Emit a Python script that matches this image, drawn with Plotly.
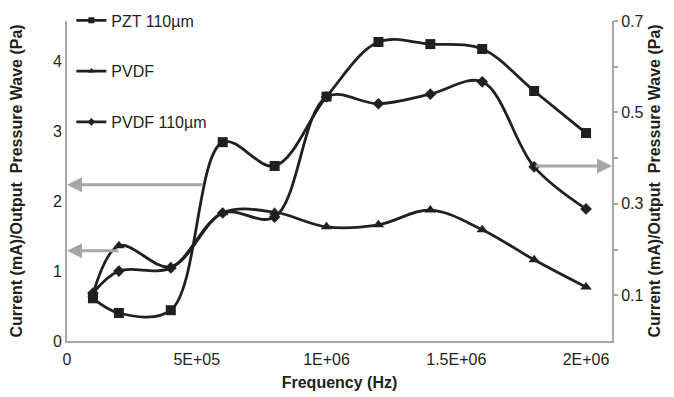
import plotly.graph_objects as go

freq = [1e5, 2e5, 4e5, 6e5, 8e5, 1e6, 1.2e6, 1.4e6, 1.6e6, 1.8e6, 2e6]
pzt_110 = [0.61, 0.40, 0.44, 2.84, 2.50, 3.49, 4.27, 4.24, 4.17, 3.57, 2.97]
pvdf = [0.67, 1.36, 1.06, 1.83, 1.84, 1.63, 1.66, 1.87, 1.59, 1.16, 0.77]
pvdf_110 = [0.105, 0.153, 0.160, 0.280, 0.271, 0.534, 0.519, 0.540, 0.567, 0.381, 0.289]

series_names = ["PZT 110µm", "PVDF", "PVDF 110µm"]
x_tickvals = [0, 5e5, 1e6, 1.5e6, 2e6]
x_ticktext = ["0", "5E+05", "1E+06", "1.5E+06", "2E+06"]
y1_tickvals = [0, 1, 2, 3, 4]
y2_tickvals = [0.1, 0.2, 0.3, 0.4, 0.5, 0.6, 0.7]
y2_ticktext = ["0.1", "", "0.3", "", "0.5", "", "0.7"]

INK = "#231f20"
GREY = "#a6a6a6"
FONT = "Arial, Liberation Sans, sans-serif"
ytitle = "<b>Current (mA)/Output  Pressure Wave (Pa)</b>"

symbols = ["square", "triangle-up", "diamond"]
sizes = [10, 10, 9]
legend_sizes = [6, 6, 6]
ys = [pzt_110, pvdf, pvdf_110]
yaxes = ["y", "y", "y2"]

fig = go.Figure()
for name, yv, sym, sz, ax in zip(series_names, ys, symbols, sizes, yaxes):
    fig.add_trace(go.Scatter(x=freq, y=yv, name=name, mode="lines+markers",
                             line=dict(color=INK, width=2.8, shape="spline", smoothing=1),
                             marker=dict(symbol=sym, size=sz, color=INK),
                             showlegend=False, yaxis=ax))
# legend entries (small markers as in the original legend)
for i, (name, sym, lsz) in enumerate(zip(series_names, symbols, legend_sizes)):
    fig.add_trace(go.Scatter(x=[None], y=[None], name=name, mode="lines+markers",
                             line=dict(color=INK, width=2.8),
                             marker=dict(symbol=sym, size=lsz, color=INK),
                             legendgroup=f"g{i}", showlegend=True))

# arrows indicating which axis each curve uses
fig.add_annotation(x=0, y=2.23, ax=5.3e5, ay=2.23, xref="x", yref="y", axref="x", ayref="y",
                   showarrow=True, arrowhead=2, arrowsize=1, arrowwidth=3, arrowcolor=GREY, text="")
fig.add_annotation(x=0, y=1.29, ax=2.04e5, ay=1.29, xref="x", yref="y", axref="x", ayref="y",
                   showarrow=True, arrowhead=2, arrowsize=1, arrowwidth=3, arrowcolor=GREY, text="")
fig.add_annotation(x=2.1e6, y=0.383, ax=1.8e6, ay=0.383, xref="x", yref="y2", axref="x", ayref="y2",
                   showarrow=True, arrowhead=2, arrowsize=1, arrowwidth=3, arrowcolor=GREY, text="")

fig.update_layout(
    width=674, height=397,
    margin=dict(l=67, r=62, t=21, b=56, autoexpand=False),
    plot_bgcolor="white", paper_bgcolor="white",
    font=dict(family=FONT, size=16, color=INK),
    showlegend=True,
    legend=dict(x=0.008, y=1.055, xanchor="left", yanchor="top",
                bgcolor="rgba(0,0,0,0)", tracegroupgap=27, traceorder="grouped",
                font=dict(size=16, color=INK)),
    xaxis=dict(range=[0, 2.1e6], tickvals=x_tickvals, ticktext=x_ticktext,
               showgrid=False, zeroline=False, showline=True, linecolor=GREY, linewidth=2,
               ticks="outside", ticklen=3, tickcolor="rgba(0,0,0,0)",
               tickfont=dict(size=16, color=INK),
               title=dict(text="<b>Frequency (Hz)</b>", font=dict(size=16, color=INK), standoff=10)),
    yaxis=dict(range=[0, 4.57], tickvals=y1_tickvals, showgrid=False, zeroline=False,
               showline=True, linecolor=GREY, linewidth=2, ticks="",
               tickfont=dict(size=16, color=INK),
               title=dict(text=ytitle, font=dict(size=16, color=INK), standoff=26)),
    yaxis2=dict(range=[0, 0.7], overlaying="y", side="right", tickvals=y2_tickvals,
                ticktext=y2_ticktext, showgrid=False, zeroline=False,
                showline=True, linecolor=GREY, linewidth=2, ticks="outside", ticklen=4,
                tickcolor=GREY, tickwidth=1.5, tickfont=dict(size=16, color=INK),
                title=dict(text=ytitle, font=dict(size=16, color=INK), standoff=6)),
)

fig.write_html("out.html")
